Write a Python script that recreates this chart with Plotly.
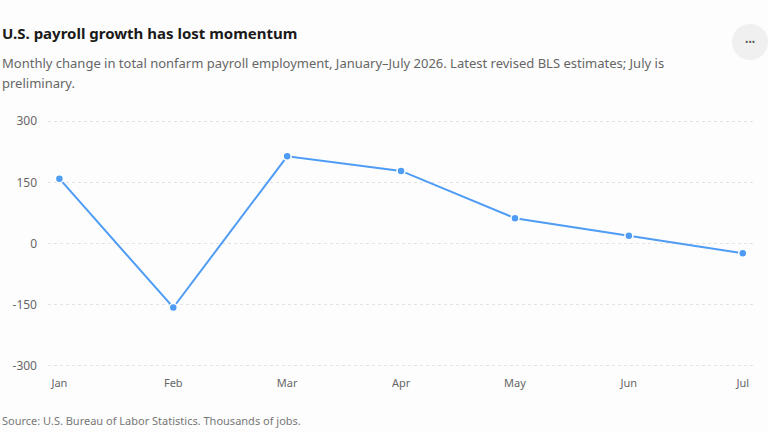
import plotly.graph_objects as go

months = ["Jan", "Feb", "Mar", "Apr", "May", "Jun", "Jul"]
payroll_change = [159, -157, 214, 178, 62, 19, -24]
y_ticks = [-300, -150, 0, 150, 300]

title = "U.S. payroll growth has lost momentum"
subtitle_1 = "Monthly change in total nonfarm payroll employment, January\u2013July 2026. Latest revised BLS estimates; July is"
subtitle_2 = "preliminary."
source = "Source: U.S. Bureau of Labor Statistics. Thousands of jobs."

W, H = 768, 432
ml, mr, mt, mb = 48, 15, 120, 65
pw = W - ml - mr
ph = H - mt - mb

def px(x):
    return (x - ml) / pw

def py(y):
    return (H - mb - y) / ph

font = "Noto Sans"

fig = go.Figure()
fig.add_trace(go.Scatter(
    x=months, y=payroll_change, mode="lines+markers",
    line=dict(color="#4f9cf5", width=2),
    marker=dict(size=8, color="#4f9cf5", line=dict(color="white", width=1.5)),
    hoverinfo="x+y",
))

fig.update_layout(
    width=W, height=H,
    margin=dict(l=ml, r=mr, t=mt, b=mb),
    paper_bgcolor="#fdfdfd", plot_bgcolor="#fdfdfd",
    showlegend=False,
    font=dict(family=font, color="#666666", size=12),
    xaxis=dict(
        type="category", range=[-0.1, 6.09], showgrid=False, zeroline=False,
        showline=False, ticks="", ticklabelstandoff=8,
        tickfont=dict(size=11, color="#666666"),
    ),
    yaxis=dict(
        range=[-303, 303], tickvals=y_ticks, ticktext=[str(v) for v in y_ticks],
        showgrid=True, gridcolor="#e3e3e3", griddash="3px,3px", gridwidth=1,
        zeroline=False, showline=False, ticks="", ticklabelstandoff=10,
        tickfont=dict(size=12, color="#666666"),
    ),
)

fig.add_annotation(text="<b>" + title + "</b>", xref="paper", yref="paper",
                   x=px(0), y=py(33), xanchor="left", yanchor="middle",
                   showarrow=False, font=dict(size=15, color="#1a1a1a", family=font))
fig.add_annotation(text=subtitle_1, xref="paper", yref="paper",
                   x=px(0), y=py(63), xanchor="left", yanchor="middle",
                   showarrow=False, font=dict(size=13, color="#666666", family=font))
fig.add_annotation(text=subtitle_2, xref="paper", yref="paper",
                   x=px(0), y=py(83), xanchor="left", yanchor="middle",
                   showarrow=False, font=dict(size=13, color="#666666", family=font))
fig.add_annotation(text=source, xref="paper", yref="paper",
                   x=px(0), y=py(420), xanchor="left", yanchor="middle",
                   showarrow=False, font=dict(size=11, color="#777777", family=font))

# menu button
fig.add_shape(type="circle", xref="paper", yref="paper",
              x0=px(732), x1=px(768), y0=py(60), y1=py(24),
              fillcolor="#f0f0f0", line=dict(width=0), layer="below")
fig.add_annotation(text="\u2022\u2022\u2022", xref="paper", yref="paper",
                   x=px(750), y=py(42), xanchor="center", yanchor="middle",
                   showarrow=False, font=dict(size=9, color="#555555", family=font))

fig.write_html("out.html", config={"displayModeBar": False},
               post_script="document.body.style.margin='0';")
